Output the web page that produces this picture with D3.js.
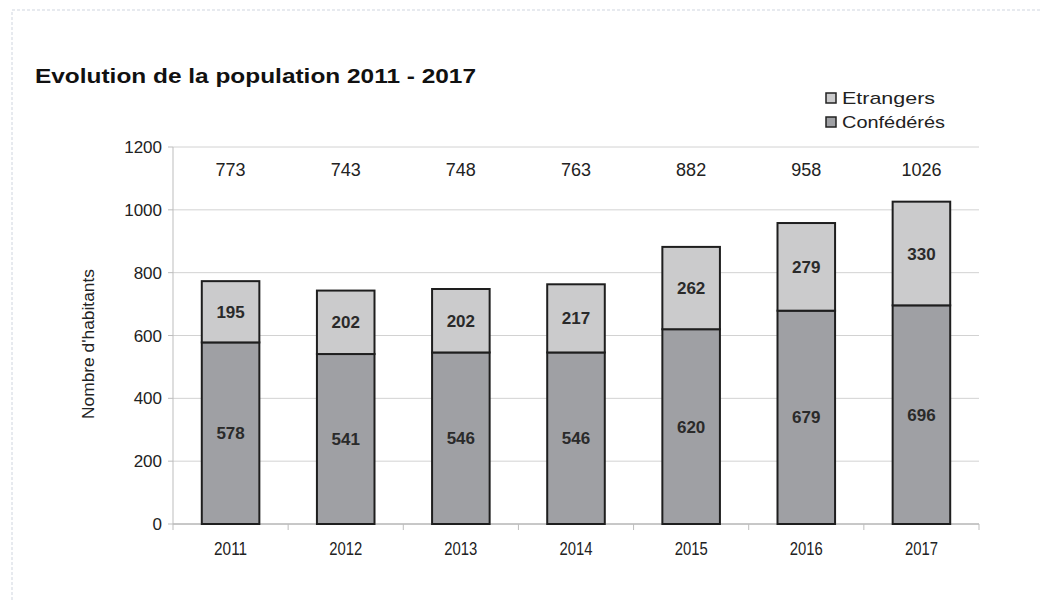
<!DOCTYPE html>
<html><head><meta charset="utf-8">
<script src="https://cdn.jsdelivr.net/npm/d3@7"></script>
<style>body{margin:0;background:#fff}svg{display:block}text{font-family:"Liberation Sans",Arial,sans-serif}</style>
</head><body>
<svg id="c" width="1050" height="601"></svg>
<script>
const years = ["2011","2012","2013","2014","2015","2016","2017"];
const confederes = [578,541,546,546,620,679,696];
const etrangers = [195,202,202,217,262,279,330];
const totals = [773,743,748,763,882,958,1026];
const yTicks = [0,200,400,600,800,1000,1200];
const seriesNames = ["Etrangers","Confédérés"];
const colors = {"Confédérés":"#9fa0a4","Etrangers":"#cbcbcc"};

const svg = d3.select("#c");
// faint frame
svg.append("path").attr("d","M12,600 L12,10 L1040,10").attr("fill","none")
  .attr("stroke","#dfe3ea").attr("stroke-width",1.5).attr("stroke-dasharray","3,2");

const L=173, R=979, T=147, B=524;
const x = d3.scaleBand().domain(years).range([L,R]).paddingInner(0.5).paddingOuter(0.25);
const y = d3.scaleLinear().domain([0,1200]).range([B,T]);

// gridlines
svg.append("g").selectAll("line").data(yTicks).join("line")
  .attr("x1",L).attr("x2",R).attr("y1",d=>y(d)).attr("y2",d=>y(d))
  .attr("stroke","#d2d2d2").attr("stroke-width",1);
// y axis line
svg.append("line").attr("x1",L).attr("x2",L).attr("y1",T).attr("y2",B).attr("stroke","#bdbdbd");
// y tick marks
svg.append("g").selectAll("line").data(yTicks).join("line")
  .attr("x1",L-5).attr("x2",L).attr("y1",d=>y(d)).attr("y2",d=>y(d)).attr("stroke","#bdbdbd");
// y labels
svg.append("g").selectAll("text").data(yTicks).join("text")
  .attr("x",L-11).attr("y",d=>y(d)+6).attr("text-anchor","end")
  .attr("font-size",17).attr("fill","#222").text(d=>d);

// x axis line and ticks between categories
svg.append("line").attr("x1",L).attr("x2",R).attr("y1",B).attr("y2",B).attr("stroke","#bdbdbd").attr("stroke-width",1.5);
const bounds = years.map((d,i)=>L+i*(R-L)/years.length).concat([R]);
svg.append("g").selectAll("line").data(bounds).join("line")
  .attr("x1",d=>d).attr("x2",d=>d).attr("y1",B).attr("y2",B+6).attr("stroke","#bdbdbd");
svg.append("g").selectAll("text").data(years).join("text")
  .attr("x",d=>x(d)+x.bandwidth()/2).attr("y",B+31).attr("text-anchor","middle")
  .attr("font-size",18).attr("fill","#222").attr("textLength",33).attr("lengthAdjust","spacingAndGlyphs")
  .text(d=>d);

// stacked bars
const rows = years.map((yr,i)=>({year:yr,"Confédérés":confederes[i],"Etrangers":etrangers[i]}));
const stack = d3.stack().keys(["Confédérés","Etrangers"])(rows);
const g = svg.append("g");
stack.forEach(s=>{
  g.append("g").selectAll("rect").data(s).join("rect")
    .attr("x",d=>x(d.data.year)).attr("width",x.bandwidth())
    .attr("y",d=>y(d[1])).attr("height",d=>y(d[0])-y(d[1]))
    .attr("fill",colors[s.key]).attr("stroke","#1e1e1e").attr("stroke-width",2);
  g.append("g").selectAll("text").data(s).join("text")
    .attr("x",d=>x(d.data.year)+x.bandwidth()/2).attr("y",d=>y((d[0]+d[1])/2)+6)
    .attr("text-anchor","middle").attr("font-size",17).attr("font-weight","bold")
    .attr("fill","#2a2a2a").text(d=>d[1]-d[0]);
});

// totals
svg.append("g").selectAll("text").data(years).join("text")
  .attr("x",d=>x(d)+x.bandwidth()/2).attr("y",176).attr("text-anchor","middle")
  .attr("font-size",18).attr("fill","#222").text((d,i)=>totals[i]);

// title
svg.append("text").attr("x",35).attr("y",83).attr("font-size",21).attr("font-weight","bold")
  .attr("fill","#111").attr("textLength",441).attr("lengthAdjust","spacingAndGlyphs")
  .text("Evolution de la population 2011 - 2017");

// y axis title
svg.append("text").attr("transform","translate(94,344) rotate(-90)").attr("text-anchor","middle")
  .attr("font-size",16).attr("fill","#222").attr("textLength",150).attr("lengthAdjust","spacingAndGlyphs")
  .text("Nombre d'habitants");

// legend
const lg = svg.append("g").selectAll("g").data(seriesNames).join("g")
  .attr("transform",(d,i)=>`translate(826,${93+i*24})`);
lg.append("rect").attr("x",0).attr("y",0).attr("width",10).attr("height",10)
  .attr("fill",d=>colors[d]).attr("stroke","#222").attr("stroke-width",1.5);
lg.append("text").attr("x",16).attr("y",11).attr("font-size",17).attr("fill","#222")
  .attr("textLength",(d,i)=>[93,103][i]).attr("lengthAdjust","spacingAndGlyphs").text(d=>d);
</script>
</body></html>
